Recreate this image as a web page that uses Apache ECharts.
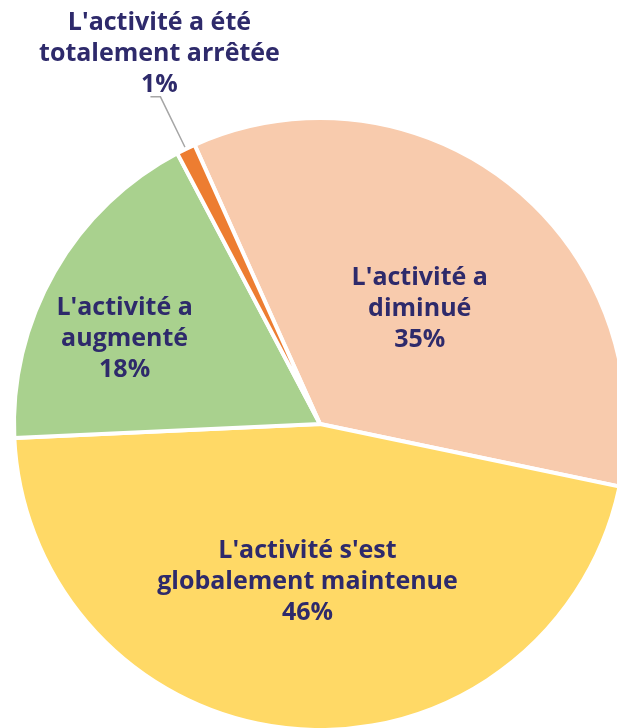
<!DOCTYPE html>
<html>
<head>
<meta charset="utf-8">
<script src="https://cdn.jsdelivr.net/npm/echarts@6/dist/echarts.min.js"></script>
<style>
  html, body { margin: 0; padding: 0; background: #fff; }
  #chart { width: 617px; height: 728px; }
</style>
</head>
<body>
<div id="chart"></div>
<script>
// categories, clockwise from the top-left edge of the "diminué" slice
const categories = [
  "L'activité a\ndiminué",
  "L'activité s'est\nglobalement maintenue",
  "L'activité a\naugmenté",
  "L'activité a été\ntotalement arrêtée"
]
const values = [35, 46, 18, 1]
const colors = ['#F8CBAD', '#FFD966', '#A9D18E', '#ED7D31']

const textColor = '#2E2A6B'

let myChart = echarts.init(document.getElementById('chart'))
let option = {
  animation: false,
  series: [
    {
      type: 'pie',
      center: [320, 424],
      radius: 306,
      startAngle: 114.2,
      clockwise: true,
      data: categories.map((name, i) => ({
        name: name,
        value: values[i],
        itemStyle: { color: colors[i] },
        label: { position: i === 3 ? 'outside' : 'inside' },
      })),
      itemStyle: {
        borderColor: '#fff',
        borderWidth: 4,
      },
      label: {
        formatter: '{b}\n{c}%',
        color: textColor,
        fontFamily: 'Open Sans',
        fontWeight: 'bold',
        fontSize: 25,
        lineHeight: 31,
        align: 'center',
        overflow: 'none',
      },
      labelLine: {
        show: true,
        length: 58,
        length2: 10,
        lineStyle: { color: '#A6A6A6', width: 1.5 },
      },
      labelLayout: function (p) {
        if (p.dataIndex === 3) {
          const pts = p.labelLinePoints
          return {
            x: pts[2][0] + 9,
            y: pts[2][1] + 4,
            align: 'center',
            verticalAlign: 'bottom',
            labelLinePoints: pts,
          }
        }
        if (p.dataIndex === 2) {
          return { dx: -60, dy: -8 }
        }
        if (p.dataIndex === 1) {
          return { dy: 2 }
        }
        if (p.dataIndex === 0) {
          return { dx: 2, dy: 6 }
        }
        return {}
      },
      emphasis: { disabled: true },
    },
  ],
}
myChart.setOption(option)
window.addEventListener('resize', () => {
  myChart.resize()
})
</script>
</body>
</html>
